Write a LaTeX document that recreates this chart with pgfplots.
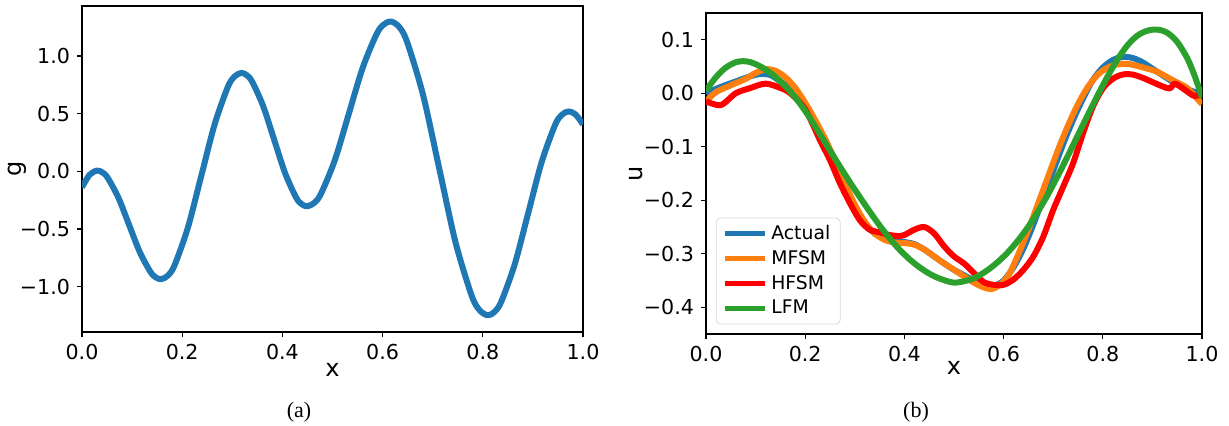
\documentclass[border=0pt]{standalone}
\usepackage{pgfplots}
\pgfplotsset{compat=1.18}
\usepackage{fontspec}
\setmainfont{DejaVu Sans}
\newfontfamily\capfont{Liberation Serif}
\definecolor{tabblue}{HTML}{1F77B4}
\definecolor{taborange}{HTML}{FF7F0E}
\definecolor{tabred}{HTML}{FF0000}
\definecolor{tabgreen}{HTML}{2CA02C}
\pgfplotsset{
  myaxis/.style={
    scale only axis,
    anchor=south west,
    axis line style={line width=0.6pt},
    tick align=outside,
    major tick length=2.5pt,
    tick style={line width=0.6pt, black},
    xtick pos=bottom, ytick pos=left,
    tick label style={font=\fontsize{10.3}{12}\selectfont},
    label style={font=\fontsize{12}{14}\selectfont},
    xmin=0, xmax=1,
    xtick={0,0.2,0.4,0.6,0.8,1.0},
    xticklabels={0.0,0.2,0.4,0.6,0.8,1.0},
    every axis plot/.append style={line width=3pt, line join=round, smooth},
  }
}
\begin{document}
\begin{tikzpicture}
\path[use as bounding box] (0,0) rectangle (614.5pt,212.5pt);
\begin{axis}[myaxis,
  at={(41pt,46.5pt)}, width=250.5pt, height=163pt,
  ymin=-1.393, ymax=1.434,
  ytick={-1,-0.5,0,0.5,1},
  yticklabels={−1.0,−0.5,0.0,0.5,1.0},
  xlabel={x}, ylabel={g},
  xlabel style={at={(axis description cs:0.5,-0.1166)}, anchor=center},
  ylabel style={at={(axis description cs:-0.13,0.5)}, anchor=center},
]
\addplot[tabblue] coordinates {
(0.000,-0.138) (0.015,-0.030) (0.030,0.007) (0.0407,-0.009)
(0.0513,-0.056) (0.0727,-0.2285) (0.094,-0.464) (0.1153,-0.6995) (0.1367,-0.872) (0.1473,-0.919) (0.158,-0.935)
(0.1713,-0.9045) (0.1847,-0.815) (0.2113,-0.488) (0.238,-0.0405) (0.2647,0.407) (0.2913,0.734) (0.3047,0.8235) (0.318,0.854)
(0.3289,0.834) (0.3398,0.7765) (0.3617,0.565) (0.3835,0.2755) (0.4053,-0.014) (0.4272,-0.2255) (0.4381,-0.283) (0.449,-0.303)
(0.4629,-0.2757) (0.4768,-0.196) (0.5047,0.098) (0.5325,0.4985) (0.5603,0.899) (0.5882,1.1926) (0.6021,1.2727) (0.616,1.300)
(0.6322,1.2567) (0.6483,1.129) (0.6807,0.663) (0.713,0.026) (0.7453,-0.611) (0.7777,-1.077) (0.7938,-1.2047) (0.810,-1.248)
(0.8234,-1.218) (0.8368,-1.130) (0.8637,-0.806) (0.8905,-0.364) (0.9173,0.078) (0.9442,0.402) (0.9576,0.490) (0.971,0.520)
(0.985,0.494) (1.000,0.407)
};
\end{axis}
\begin{axis}[myaxis,
  at={(353pt,45.5pt)}, width=248pt, height=160.5pt,
  ymin=-0.45, ymax=0.15,
  ytick={-0.4,-0.3,-0.2,-0.1,0,0.1},
  yticklabels={−0.4,−0.3,−0.2,−0.1,0.0,0.1},
  xlabel={x}, ylabel={u},
  xlabel style={at={(axis description cs:0.5,-0.106)}, anchor=center},
  ylabel style={at={(axis description cs:-0.141,0.5)}, anchor=center},
  legend style={at={(axis description cs:0.02,0.03)}, anchor=south west,
    draw=black!15, rounded corners=2pt, font=\fontsize{9.4}{11}\selectfont,
    inner xsep=3pt, inner ysep=1.5pt, row sep=0pt},
  legend cell align=left,
  legend image code/.code={\draw[#1,line width=2.5pt] (0pt,0pt) -- (20pt,0pt);},
]
\addplot[tabblue] coordinates {
(0.00,0.000) (0.03,0.012) (0.06,0.022) (0.09,0.032) (0.11,0.036)
(0.13,0.034) (0.15,0.022) (0.18,0.002) (0.20,-0.025) (0.22,-0.060)
(0.24,-0.100) (0.26,-0.140) (0.28,-0.180) (0.30,-0.215) (0.32,-0.243)
(0.34,-0.262) (0.36,-0.272) (0.38,-0.276) (0.40,-0.278) (0.42,-0.282)
(0.44,-0.292) (0.46,-0.305) (0.48,-0.318) (0.50,-0.330) (0.52,-0.340)
(0.54,-0.350) (0.56,-0.358) (0.58,-0.360) (0.60,-0.350) (0.62,-0.325)
(0.64,-0.290) (0.66,-0.245) (0.68,-0.195) (0.70,-0.145) (0.72,-0.095)
(0.74,-0.050) (0.76,-0.010) (0.78,0.025) (0.80,0.048) (0.82,0.062)
(0.84,0.068) (0.86,0.066) (0.88,0.058) (0.90,0.046) (0.92,0.034)
(0.94,0.022) (0.96,0.012) (0.98,0.004) (1.00,0.000)
};
\addlegendentry{Actual}
\addplot[taborange] coordinates {
(0.00,-0.015) (0.02,0.002) (0.05,0.015) (0.08,0.027) (0.10,0.038)
(0.12,0.045) (0.14,0.042) (0.16,0.030) (0.18,0.010) (0.20,-0.018)
(0.22,-0.050) (0.24,-0.085) (0.26,-0.125) (0.28,-0.168) (0.30,-0.208)
(0.32,-0.240) (0.34,-0.262) (0.36,-0.274) (0.38,-0.279) (0.40,-0.280)
(0.42,-0.283) (0.44,-0.292) (0.46,-0.305) (0.48,-0.318) (0.50,-0.330)
(0.52,-0.342) (0.54,-0.354) (0.56,-0.363) (0.575,-0.366) (0.59,-0.360)
(0.61,-0.340) (0.63,-0.300) (0.65,-0.255) (0.67,-0.205) (0.69,-0.155)
(0.71,-0.105) (0.73,-0.060) (0.75,-0.020) (0.77,0.012) (0.79,0.035)
(0.81,0.048) (0.83,0.054) (0.85,0.055) (0.87,0.051) (0.89,0.046)
(0.91,0.040) (0.93,0.030) (0.95,0.020) (0.97,0.010) (0.99,-0.010)
(1.00,-0.020)
};
\addlegendentry{MFSM}
\addplot[tabred] coordinates {
(0.00,-0.015) (0.03,-0.022) (0.06,0.000) (0.09,0.010) (0.12,0.018)
(0.15,0.010) (0.17,0.000) (0.20,-0.030) (0.23,-0.088) (0.25,-0.125)
(0.27,-0.168) (0.29,-0.205) (0.31,-0.237) (0.33,-0.255) (0.35,-0.260)
(0.37,-0.265) (0.39,-0.267) (0.40,-0.265) (0.42,-0.255) (0.44,-0.250)
(0.46,-0.262) (0.48,-0.286) (0.50,-0.305) (0.52,-0.318) (0.54,-0.336)
(0.56,-0.353) (0.58,-0.358) (0.60,-0.358) (0.62,-0.348) (0.64,-0.330)
(0.66,-0.305) (0.68,-0.268) (0.70,-0.218) (0.72,-0.175) (0.74,-0.131)
(0.76,-0.075) (0.78,-0.025) (0.80,0.009) (0.82,0.027) (0.84,0.035)
(0.86,0.035) (0.88,0.029) (0.90,0.021) (0.92,0.013) (0.935,0.009)
(0.945,0.018) (0.96,0.010) (0.975,0.000) (0.985,-0.005) (1.00,-0.002)
};
\addlegendentry{HFSM}
\addplot[tabgreen] coordinates {
(0.00,0.005) (0.02,0.030) (0.04,0.048) (0.06,0.058) (0.075,0.060)
(0.09,0.058) (0.11,0.050) (0.13,0.038) (0.15,0.022) (0.17,0.003)
(0.19,-0.020) (0.21,-0.047) (0.23,-0.077) (0.25,-0.107) (0.27,-0.137)
(0.29,-0.166) (0.31,-0.194) (0.33,-0.221) (0.35,-0.247) (0.37,-0.271)
(0.39,-0.292) (0.41,-0.310) (0.43,-0.325) (0.45,-0.337) (0.47,-0.346)
(0.50,-0.354) (0.53,-0.349) (0.55,-0.341) (0.57,-0.329) (0.59,-0.314)
(0.61,-0.296) (0.63,-0.274) (0.65,-0.249) (0.67,-0.220) (0.69,-0.188)
(0.71,-0.153) (0.73,-0.116) (0.75,-0.078) (0.77,-0.040) (0.79,-0.003)
(0.81,0.032) (0.83,0.064) (0.85,0.090) (0.87,0.108) (0.89,0.117)
(0.91,0.119) (0.93,0.113) (0.95,0.096) (0.97,0.066) (0.985,0.033)
(1.00,-0.008)
};
\addlegendentry{LFM}
\end{axis}
\node[font=\capfont\fontsize{11}{13}\selectfont] at (149.5pt,6.5pt) {(a)};
\node[font=\capfont\fontsize{11}{13}\selectfont] at (458pt,6.5pt) {(b)};
\end{tikzpicture}
\end{document}
